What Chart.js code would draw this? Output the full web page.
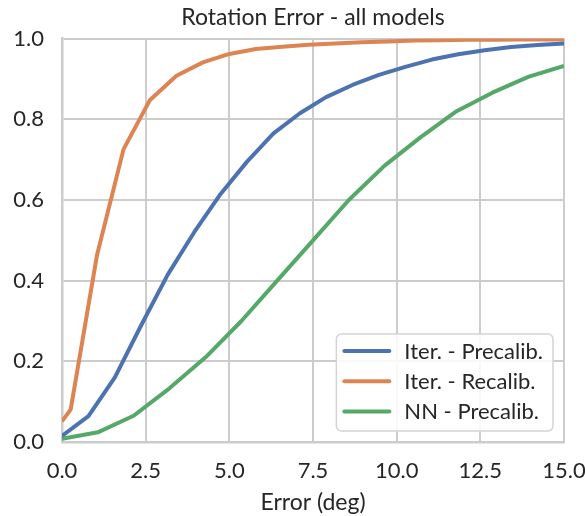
<!DOCTYPE html>
<html>
<head>
<meta charset="utf-8">
<script src="https://cdn.jsdelivr.net/npm/chart.js@4"></script>
<style>
  body { margin: 0; background: #fff; }
  #wrap { width: 585px; height: 516px; }
</style>
</head>
<body>
<div id="wrap"><canvas id="rotChart" width="585" height="516"></canvas></div>
<script>
// cumulative share of samples under each rotation error (deg)
const seriesNames = ["Iter. - Precalib.", "Iter. - Recalib.", "NN - Precalib."];
const seriesColors = ["#4C72B0", "#DD8452", "#55A868"];

const iterPrecalibX = [0, 0.79, 1.58, 2.37, 3.16, 3.95, 4.74, 5.53, 6.32, 7.11, 7.89, 8.68, 9.47, 10.26, 11.05, 11.84, 12.63, 13.42, 14.21, 15];
const iterPrecalibY = [0.015, 0.064, 0.16, 0.29, 0.415, 0.52, 0.615, 0.695, 0.765, 0.815, 0.855, 0.885, 0.91, 0.93, 0.948, 0.961, 0.971, 0.979, 0.984, 0.988];

const iterRecalibX = [0, 0.26, 1.05, 1.84, 2.63, 3.42, 4.21, 5.0, 5.79, 6.58, 7.37, 8.16, 8.95, 9.74, 10.53, 11.32, 12.11, 12.89, 13.68, 14.47, 15];
const iterRecalibY = [0.051, 0.081, 0.465, 0.726, 0.848, 0.908, 0.941, 0.962, 0.974, 0.98, 0.985, 0.988, 0.991, 0.993, 0.995, 0.996, 0.997, 0.997, 0.998, 0.998, 0.998];

const nnPrecalibX = [0, 1.07, 2.14, 3.21, 4.29, 5.36, 6.43, 7.5, 8.57, 9.64, 10.71, 11.79, 12.86, 13.93, 15];
const nnPrecalibY = [0.008, 0.024, 0.065, 0.133, 0.21, 0.3, 0.4, 0.5, 0.6, 0.685, 0.755, 0.82, 0.866, 0.905, 0.932];

const xTicks = [0, 2.5, 5, 7.5, 10, 12.5, 15];
const yTicks = [0, 0.2, 0.4, 0.6, 0.8, 1.0];

const textColor = "#262626";
const gridColor = "#cccccc";
const fontFamily = "Lato, 'DejaVu Sans', sans-serif";

function toPoints(xs, ys) {
  return xs.map((x, i) => ({ x: x, y: ys[i] }));
}

const allX = [iterPrecalibX, iterRecalibX, nnPrecalibX];
const allY = [iterPrecalibY, iterRecalibY, nnPrecalibY];

const datasets = seriesNames.map((name, i) => ({
  label: name,
  data: toPoints(allX[i], allY[i]),
  borderColor: seriesColors[i],
  backgroundColor: seriesColors[i],
  borderWidth: 4,
  borderJoinStyle: "round",
  pointRadius: 0,
  tension: 0,
  fill: false
}));

// legend box drawn inside the plot, lower right
const innerLegend = {
  id: "innerLegend",
  afterDraw(chart) {
    const ctx = chart.ctx;
    const area = chart.chartArea;
    ctx.save();
    ctx.font = "22px " + fontFamily;
    const textW = Math.max(...seriesNames.map(n => ctx.measureText(n).width));
    const w = 68 + textW + 10;
    const h = 97;
    const right = area.right - 11;
    const bottom = area.bottom - 11;
    const left = right - w;
    const top = bottom - h;

    ctx.beginPath();
    ctx.roundRect(left, top, w, h, 5);
    ctx.fillStyle = "rgba(255,255,255,0.85)";
    ctx.fill();
    ctx.lineWidth = 1.5;
    ctx.strokeStyle = "#d4d4d4";
    ctx.stroke();

    seriesNames.forEach((name, i) => {
      const cy = top + 17 + i * 30.2;
      ctx.beginPath();
      ctx.moveTo(left + 8, cy);
      ctx.lineTo(left + 53, cy);
      ctx.lineWidth = 4;
      ctx.lineCap = "round";
      ctx.strokeStyle = seriesColors[i];
      ctx.stroke();
      ctx.fillStyle = textColor;
      ctx.textBaseline = "middle";
      ctx.textAlign = "left";
      ctx.fillText(name, left + 68, cy + 1);
    });
    ctx.restore();
  }
};

new Chart(document.getElementById("rotChart").getContext("2d"), {
  type: "line",
  data: { datasets: datasets },
  plugins: [innerLegend],
  options: {
    responsive: false,
    devicePixelRatio: 1,
    animation: false,
    layout: { padding: 0 },
    plugins: {
      legend: { display: false },
      tooltip: { enabled: false },
      title: {
        display: true,
        fullSize: false,
        text: "Rotation Error - all models",
        color: textColor,
        font: { family: fontFamily, size: 23, weight: "normal" },
        padding: { top: 4, bottom: 7 }
      }
    },
    scales: {
      x: {
        type: "linear",
        min: 0,
        max: 15,
        afterFit(scale) {
          scale.height = 74;
          scale.paddingLeft = 0;
          scale.paddingRight = 21;
        },
        afterBuildTicks(scale) { scale.ticks = xTicks.map(v => ({ value: v })); },
        ticks: {
          color: textColor,
          font: { family: fontFamily, size: 22 },
          padding: 16,
          maxRotation: 0,
          callback: v => v.toFixed(1)
        },
        grid: { color: gridColor, lineWidth: 2, drawTicks: false },
        border: { color: gridColor, width: 2.5 },
        title: {
          display: true,
          text: "Error (deg)",
          color: textColor,
          font: { family: fontFamily, size: 23 },
          padding: { top: 0, bottom: 0 }
        }
      },
      y: {
        type: "linear",
        min: 0,
        max: 1,
        afterFit(scale) {
          scale.width = 62;
          scale.paddingTop = 0;
          scale.paddingBottom = 0;
        },
        afterBuildTicks(scale) { scale.ticks = yTicks.map(v => ({ value: v })); },
        ticks: {
          color: textColor,
          font: { family: fontFamily, size: 22 },
          padding: 18,
          callback: v => v.toFixed(1)
        },
        grid: { color: gridColor, lineWidth: 2, drawTicks: false },
        border: { color: gridColor, width: 2.5 }
      }
    }
  }
});
</script>
</body>
</html>
